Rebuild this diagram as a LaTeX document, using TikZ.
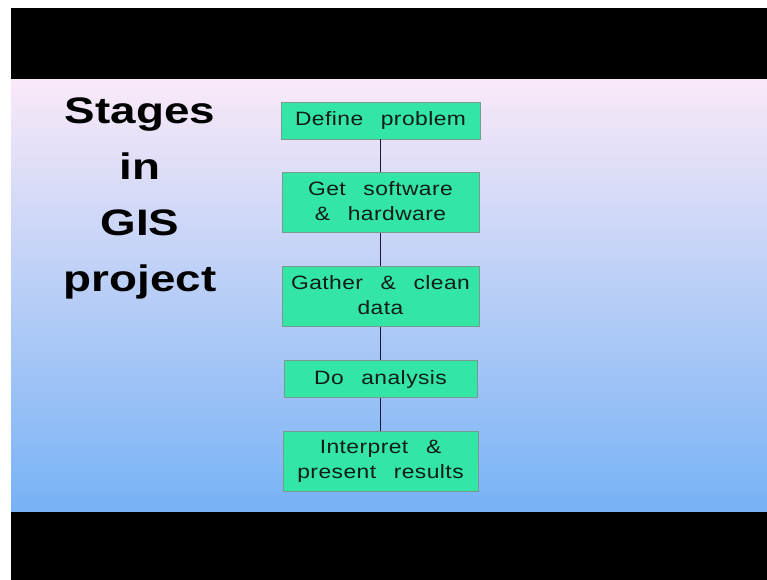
\documentclass[tikz,border=0pt]{standalone}
\usepackage{fontspec}
\setmainfont{Liberation Sans}
\newfontfamily\boxfont[LetterSpace=2, WordSpace=2.6]{Liberation Sans}
\usetikzlibrary{positioning}
\definecolor{stagegreen}{HTML}{33E6A6}
\definecolor{stageborder}{HTML}{7A9A90}
\definecolor{stageink}{HTML}{101C16}
\definecolor{linkcolor}{HTML}{1A1A38}
\definecolor{bgtop}{HTML}{F9E9F8}
\definecolor{bgmid}{HTML}{BCC8F2}
\definecolor{bgbot}{HTML}{76B2F5}
\newcommand{\wide}[2][1.18]{\scalebox{#1}[1]{#2}}
\newcommand{\stagetext}[1]{\wide{\begin{tabular}{@{}c@{}}#1\end{tabular}}}
\tikzset{node distance=0.66cm,
stage/.style={ % Boxes of the flow chart
draw=stageborder,
fill=stagegreen,
line width=0.5pt,
minimum width=3.94cm,
minimum height=0.74cm,
inner sep=0pt,
text=stageink,
font=\boxfont\fontsize{11}{14.2}\selectfont},
twoline/.style={minimum height=1.2cm}, % Boxes with two lines of text
link/.style={ % Lines between the boxes
draw=linkcolor,
line width=0.6pt}}

\begin{document}
\begin{tikzpicture}[x=0.02cm, y=-0.02cm]
\useasboundingbox (0,0) rectangle (767,580);
\fill[white] (0,0) rectangle (767,580);
\fill[black] (11,8) rectangle (767,80);
\shade[top color=bgtop, middle color=bgmid, bottom color=bgbot] (11,80) rectangle (767,512);
\fill[black] (11,512) rectangle (767,580);
\node[font=\bfseries\fontsize{21}{31.8}\selectfont, align=center, anchor=north, inner sep=0pt] (title) at (140,97.5)
  {\wide[1.24]{Stages}\\\wide[1.24]{in}\\\wide[1.24]{GIS}\\\wide[1.24]{project}};
\node[stage, minimum width=3.98cm] (define) at (380.5,120.5) {\stagetext{Define problem}};
\node[stage, twoline, below=of define] (software) {\stagetext{Get software\\\& hardware}};
\node[stage, twoline, below=of software] (gather) {\stagetext{Gather \& clean\\data}};
\node[stage, minimum width=3.86cm, below=of gather] (analysis) {\stagetext{Do analysis}};
\node[stage, twoline, minimum width=3.9cm, below=of analysis] (interpret) {\stagetext{Interpret \&\\present results}};
\draw[link] (define) -- (software);
\draw[link] (software) -- (gather);
\draw[link] (gather) -- (analysis);
\draw[link] (analysis) -- (interpret);
\end{tikzpicture}
\end{document}
